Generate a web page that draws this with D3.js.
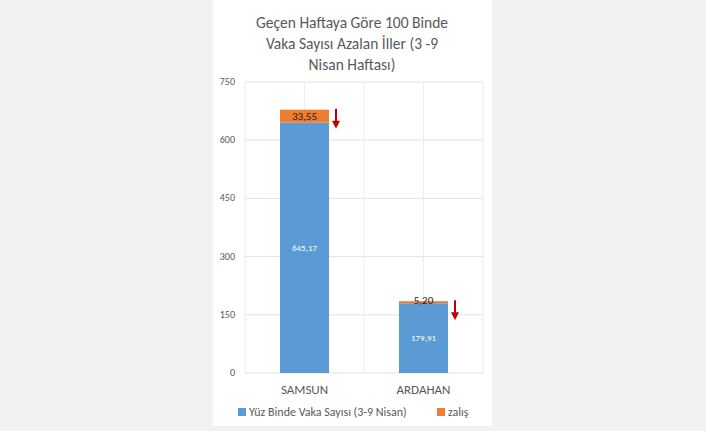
<!DOCTYPE html>
<html><head><meta charset="utf-8">
<script src="https://cdn.jsdelivr.net/npm/d3@7"></script>
<style>body{margin:0;background:#f2f2f2;font-family:Calibri,"Open Sans",sans-serif;}</style>
</head><body>
<script>
const categories = ["SAMSUN", "ARDAHAN"];
const base = [645.17, 179.91];
const drop = [33.55, 5.20];
const baseLabels = ["645,17", "179,91"];
const dropLabels = ["33,55", "5,20"];
const yTicks = [0, 150, 300, 450, 600, 750];
const titleLines = ["Geçen Haftaya Göre 100 Binde", "Vaka Sayısı Azalan İller (3 -9", "Nisan Haftası)"];
const legendNames = ["Yüz Binde Vaka Sayısı (3-9 Nisan)", "zalış"];

const width = 706, height = 431;
const svg = d3.select("body").append("svg").attr("width", width).attr("height", height);

// white chart panel
svg.append("rect").attr("x", 213).attr("y", 0).attr("width", 279).attr("height", 426).attr("fill", "white");

const x = d3.scaleBand().domain(categories).range([245, 483]).paddingInner(0.2).paddingOuter(0.1);
const y = d3.scaleLinear().domain([0, 750]).range([373, 82]);

// grid
const grid = svg.append("g");
grid.selectAll("line.h").data(yTicks).join("line")
  .attr("x1", 245).attr("x2", 483).attr("y1", d => y(d)).attr("y2", d => y(d))
  .attr("stroke", "#e3e3e3");
grid.selectAll("line.v").data(d3.range(5)).join("line")
  .attr("x1", d => 245 + d * 59.5).attr("x2", d => 245 + d * 59.5)
  .attr("y1", 82).attr("y2", 373).attr("stroke", "#ececec");

// y axis labels
svg.append("g").selectAll("text").data(yTicks).join("text")
  .attr("x", 235).attr("y", d => y(d) + 3).attr("text-anchor", "end")
  .attr("font-size", 10).attr("fill", "#595959").text(d => d);

// bars
const bw = 49;
const cx = c => x(c) + x.bandwidth() / 2;
svg.append("g").selectAll("rect").data(categories).join("rect")
  .attr("x", c => cx(c) - bw / 2).attr("width", bw)
  .attr("y", (c, i) => y(base[i])).attr("height", (c, i) => y(0) - y(base[i]))
  .attr("fill", "#5b9bd5");
svg.append("g").selectAll("rect").data(categories).join("rect")
  .attr("x", c => cx(c) - bw / 2).attr("width", bw)
  .attr("y", (c, i) => y(base[i] + drop[i])).attr("height", (c, i) => y(base[i]) - y(base[i] + drop[i]))
  .attr("fill", "#ed7d31");

// value labels
svg.append("g").selectAll("text").data(categories).join("text")
  .attr("x", cx).attr("y", (c, i) => y(base[i] / 2) + 3).attr("text-anchor", "middle")
  .attr("font-size", 9).attr("fill", "white").text((c, i) => baseLabels[i]);
svg.append("g").selectAll("text").data(categories).join("text")
  .attr("x", cx).attr("y", (c, i) => i === 0 ? y(base[i] + drop[i] / 2) + 4 : y(base[i] + drop[i]) + 3)
  .attr("text-anchor", "middle").attr("font-size", 11).attr("fill", "#222").text((c, i) => dropLabels[i]);

// arrows
const arr = svg.append("g");
categories.forEach((c, i) => {
  const ax = cx(c) + bw / 2 + 7, top = y(base[i] + drop[i]) - 1;
  arr.append("line").attr("x1", ax).attr("x2", ax).attr("y1", top).attr("y2", top + 14)
    .attr("stroke", "#c00000").attr("stroke-width", 2);
  arr.append("path").attr("d", `M${ax - 4},${top + 12} L${ax + 4},${top + 12} L${ax},${top + 20} Z`).attr("fill", "#c00000");
});

// x labels
svg.append("g").selectAll("text").data(categories).join("text")
  .attr("x", cx).attr("y", 394).attr("text-anchor", "middle")
  .attr("font-size", 13).attr("fill", "#595959").text(d => d);

// title
svg.append("g").selectAll("text").data(titleLines).join("text")
  .attr("x", 352).attr("y", (d, i) => 28 + i * 21).attr("text-anchor", "middle")
  .attr("font-size", 15.5).attr("fill", "#595959").text(d => d);

// legend
const lg = svg.append("g");
lg.append("rect").attr("x", 238).attr("y", 408).attr("width", 8).attr("height", 8).attr("fill", "#5b9bd5");
lg.append("text").attr("x", 249).attr("y", 416).attr("font-size", 12).attr("fill", "#595959").text(legendNames[0]);
lg.append("rect").attr("x", 437).attr("y", 408).attr("width", 8).attr("height", 8).attr("fill", "#ed7d31");
lg.append("text").attr("x", 448).attr("y", 416).attr("font-size", 12).attr("fill", "#595959").text(legendNames[1]);
</script>
</body></html>
